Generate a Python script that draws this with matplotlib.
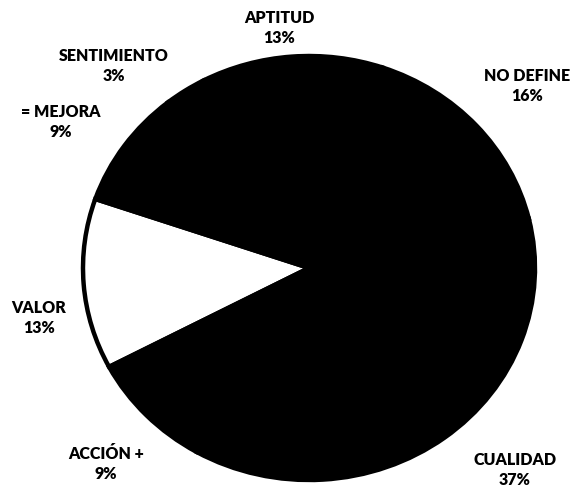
import matplotlib
matplotlib.use("Agg")
import matplotlib.pyplot as plt

# counter-clockwise order, starting with the white slice
CATEGORIES = ["VALOR", "ACCIÓN +", "CUALIDAD", "NO DEFINE", "APTITUD",
              "SENTIMIENTO", "= MEJORA"]
PERCENT = [13, 9, 37, 16, 13, 3, 9]
COLORS = ["white", "black", "black", "black", "black", "black", "black"]

# label block centres in pixels (x from left, y from top)
LABEL_POS = {
    "APTITUD":     (279, 28),
    "NO DEFINE":   (527, 86),
    "CUALIDAD":    (515, 470),
    "ACCIÓN +":    (106, 464),
    "VALOR":       (39, 318),
    "= MEJORA":    (61, 122),
    "SENTIMIENTO": (114, 66),
}

W, H = 575, 491
CX, CY = 309, 268      # pie centre, pixels
RX, RY = 226, 212      # pie radii, pixels (ellipse)

fig = plt.figure(figsize=(W / 100, H / 100), dpi=100)
ax = fig.add_axes([0, 0, 1, 1])

ax.pie(PERCENT, colors=COLORS, startangle=161, counterclock=True,
       radius=1.0, center=(0, 0), frame=False,
       wedgeprops=dict(edgecolor="black", linewidth=3.2))
ax.set_xlim(-CX / RX, (W - CX) / RX)
ax.set_ylim(-(H - CY) / RY, CY / RY)
ax.set_aspect("auto")
ax.axis("off")

for cat, pct in zip(CATEGORIES, PERCENT):
    px, py = LABEL_POS[cat]
    fig.text(px / W, 1 - py / H, f"{cat}\n{pct}%",
             ha="center", va="center", multialignment="center",
             fontsize=11.5, fontweight="heavy", family="Lato",
             linespacing=1.35, color="black")

fig.savefig("out.png", dpi=100)
